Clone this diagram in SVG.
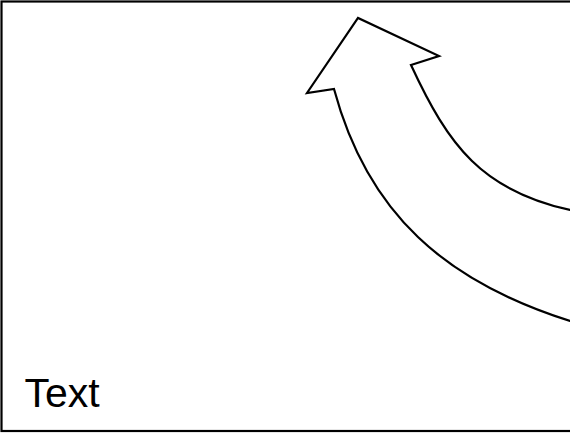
<svg xmlns="http://www.w3.org/2000/svg" width="570" height="433" viewBox="0 0 570 433">
<style>
.ln{fill:#fff;stroke:#000;stroke-width:2.2;stroke-linejoin:miter}
.lbl{font-family:"Liberation Sans",Arial,sans-serif;font-size:41px;fill:#000}
</style>
<rect x="0" y="0" width="570" height="433" fill="#fff"/>
<g id="frame"><rect class="ln" x="1.5" y="1.5" width="580" height="429.5"/></g>
<g id="arrow"><path class="ln" d="M411,65 L439,56 L358,18 L307,93 L334,89 C367.8,214.5 446.1,281.7 570,321 L600,321 L600,210 L570,210 C482.2,190.4 448.8,146.6 411,65 Z"/></g>
<g id="label"><text class="lbl" x="24.5" y="407">Text</text></g>
</svg>
